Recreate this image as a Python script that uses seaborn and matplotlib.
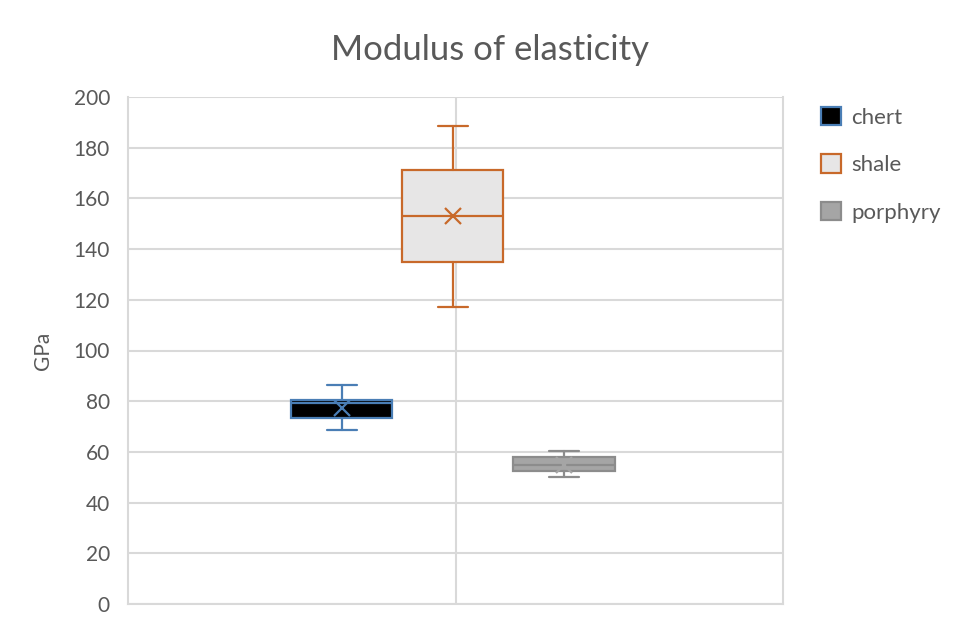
import matplotlib
matplotlib.use("Agg")
import matplotlib.pyplot as plt
from matplotlib.patches import Patch
import seaborn as sns

# Box-and-whisker summary for each rock type (GPa)
rocks = ["chert", "shale", "porphyry"]
whisker_low = [68.5, 117.3, 50.1]
quartile_1 = [73.4, 135.1, 52.6]
median = [79.2, 153.1, 55.0]
quartile_3 = [80.5, 171.1, 57.9]
whisker_high = [86.5, 188.7, 60.4]
mean = [77.3, 153.0, 55.0]
y_ticks = [0, 20, 40, 60, 80, 100, 120, 140, 160, 180, 200]

face_colors = ["#000000", "#E7E6E6", "#A5A5A5"]
edge_colors = ["#4A7EB5", "#C8692A", "#8C8C8C"]
mean_colors = ["#4A7EB5", "#C8692A", "#A5A5A5"]
text_color = "#595959"
grid_color = "#D9D9D9"

sns.set_theme(style="white")
plt.rcParams["font.family"] = ["Lato", "DejaVu Sans"]

fig = plt.figure(figsize=(9.66, 6.26), dpi=100)
ax = fig.add_axes([128 / 966, 22 / 626, (783 - 128) / 966, (604 - 97) / 626])

positions = [-1, 0, 1]
for i, rock in enumerate(rocks):
    stats = [{
        "label": rock,
        "whislo": whisker_low[i],
        "q1": quartile_1[i],
        "med": median[i],
        "q3": quartile_3[i],
        "whishi": whisker_high[i],
        "mean": mean[i],
        "fliers": [],
    }]
    ec = edge_colors[i]
    ax.bxp(
        stats, positions=[positions[i]], widths=0.91, patch_artist=True,
        showmeans=True, capwidths=0.27,
        boxprops=dict(facecolor=face_colors[i], edgecolor=ec, linewidth=1.6),
        medianprops=dict(color=ec, linewidth=1.6),
        whiskerprops=dict(color=ec, linewidth=1.6),
        capprops=dict(color=ec, linewidth=1.6),
        meanprops=dict(marker="x", markeredgecolor=mean_colors[i], markersize=12,
                       markeredgewidth=1.6),
        zorder=3,
    )

ax.set_xlim(-2.92, 2.97)
ax.set_ylim(0, 200)
ax.set_yticks(y_ticks)
ax.set_yticklabels([str(t) for t in y_ticks])
ax.set_xticks([])
ax.tick_params(axis="y", length=0, pad=13, labelsize=15, labelcolor=text_color)
ax.yaxis.grid(True, color=grid_color, linewidth=1.5, zorder=0)
ax.axvline(0.026, color=grid_color, linewidth=1.5, zorder=0)
ax.set_axisbelow(True)
for side in ["left", "right", "top", "bottom"]:
    ax.spines[side].set_visible(True)
    ax.spines[side].set_color(grid_color)
    ax.spines[side].set_linewidth(1.5)
ax.spines["top"].set_visible(False)

ax.set_ylabel("GPa", fontsize=15, color=text_color, labelpad=15)
fig.text(490 / 966, 1 - 50 / 626, "Modulus of elasticity", ha="center", va="center",
         fontsize=25, color=text_color)

handles = [Patch(facecolor=f, edgecolor=e, linewidth=1.6)
           for f, e in zip(face_colors, edge_colors)]
leg = fig.legend(handles, rocks, loc="upper left",
                 bbox_to_anchor=(812 / 966, 1 - 98 / 626),
                 frameon=False, fontsize=16, handlelength=0.9, handleheight=0.9,
                 handletextpad=0.45, labelspacing=1.2, borderaxespad=0)
for t in leg.get_texts():
    t.set_color(text_color)

fig.savefig("out.png", dpi=100)
